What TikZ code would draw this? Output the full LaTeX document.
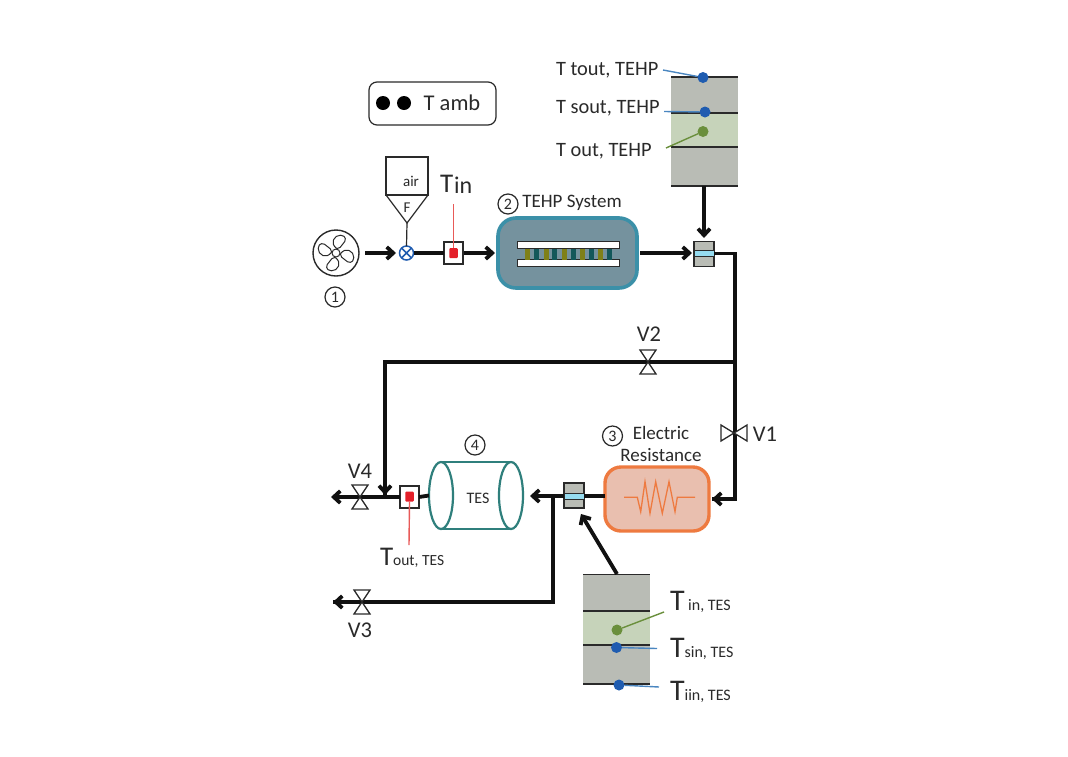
\documentclass[tikz,border=0pt]{standalone}
\usepackage{fontspec}
\setmainfont{Carlito}
\usetikzlibrary{arrows.meta,shapes.geometric,calc}
\definecolor{linek}{HTML}{111111}
\definecolor{txt}{HTML}{2A2A2A}
\definecolor{tankgrey}{HTML}{B9BCB5}
\definecolor{tankgreen}{HTML}{C6D3BA}
\definecolor{bluedot}{HTML}{1F5CB0}
\definecolor{blueline}{HTML}{4A86C0}
\definecolor{greendot}{HTML}{6A8F3C}
\definecolor{sensred}{HTML}{E4202A}
\definecolor{redline}{HTML}{E85A58}
\definecolor{tehpfill}{HTML}{75929E}
\definecolor{tehpedge}{HTML}{3B90A8}
\definecolor{resfill}{HTML}{E9BFAF}
\definecolor{resedge}{HTML}{EE7A40}
\definecolor{tesedge}{HTML}{2F7F7C}
\definecolor{olivec}{HTML}{7F8018}
\definecolor{tealc}{HTML}{13575A}
\definecolor{cyanc}{HTML}{96DCF0}
\tikzset{
  x=1pt,y=-1pt,
  pipe/.style={draw=linek,line width=3.8pt},
  flow/.style={pipe,-{Straight Barb[length=6.5pt,width=12pt,line width=3.8pt]}},
  box/.style={rectangle,draw=#1,inner sep=0pt,outer sep=0pt},
  lbl/.style={inner sep=0pt,outer sep=0pt,text=txt,font=\fontsize{19}{21}\selectfont},
  big/.style={lbl,font=\fontsize{20.4}{22}\selectfont},
  vlab/.style={lbl,font=\fontsize{22.5}{24}\selectfont},
  num/.style={circle,draw=txt,line width=1.2pt,inner sep=0pt,minimum size=20pt,text=txt,font=\fontsize{16}{16}\selectfont},
  valvebody/.style={draw=txt,line width=1.3pt,fill=white,line join=miter},
  dot/.style={circle,fill=#1,inner sep=0pt,outer sep=0pt,minimum size=11pt},
  sens/.style={box=txt,line width=1.2pt,fill=white,minimum width=19pt,minimum height=22pt},
  sred/.style={rectangle,rounded corners=1pt,fill=sensred,inner sep=0pt,minimum width=8.5pt,minimum height=10pt},
  mixer/.style={box=txt,line width=1.2pt,fill=tankgrey,minimum width=20pt,minimum height=25pt},
  tankline/.style={draw=txt,line width=1.3pt},
  probeb/.style={draw=blueline,line width=1.4pt},
  probeg/.style={draw=greendot,line width=1.4pt},
  probered/.style={draw=redline,line width=1.4pt},
}
\begin{document}
\begin{tikzpicture}
\useasboundingbox (0,0) rectangle (1068,756);
\fill[white] (0,0) rectangle (1068,756);

% legend
\node[box=txt,line width=1.2pt,rounded corners=8pt,minimum width=127pt,minimum height=43pt] (leg) at (432.5,103.5) {};
\node[dot=black,minimum size=14pt] (d1) at (383,103) {};
\node[dot=black,minimum size=14pt] (d2) at (404,103) {};
\node[lbl,font=\fontsize{22.5}{24}\selectfont] (tamb) at (452,103) {T amb};

% fan
\node[circle,draw=txt,line width=1.4pt,minimum size=46pt,inner sep=0pt] (fan) at (336,253) {};
\foreach \a in {0,90,180,270}{
  \draw[txt,line width=1pt,shift={(336,253)},rotate=\a+15]
    (2,-4) .. controls (-4,-11) and (3,-18) .. (9,-16) .. controls (15,-14) and (13,-9) .. (9,-7) .. controls (6,-5) and (5,-3) .. (2,-4) -- cycle;
}
\node[circle,draw=txt,line width=1pt,fill=white,minimum size=8pt,inner sep=0pt] (hub) at (336,253) {};
\node[num] (n1) at (335,297) {1};

% air filter
\node[box=txt,line width=1.2pt,minimum width=42pt,minimum height=38pt] (air) at (407,176) {};
\node[lbl,font=\fontsize{15}{15}\selectfont] (airt) at (411,181) {air};
\coordinate (fl) at (386,195);
\coordinate (fr) at (428,195);
\coordinate (fb) at (407,223);
\draw[txt,line width=1.2pt,line join=miter] (fl) -- (fb) -- (fr);
\node[lbl,font=\fontsize{15}{15}\selectfont] (ft) at (407,208) {F};

% mixing valve
\node[circle,draw=bluedot,line width=1.5pt,fill=white,minimum size=14pt,inner sep=0pt,outer sep=0pt] (mv) at (406.5,253) {};
\draw[bluedot,line width=1.5pt] (mv.north west) -- (mv.south east) (mv.north east) -- (mv.south west);
\draw[txt,line width=1.2pt] (fb) -- (mv.north);

% Tin sensor
\node[sens] (s1) at (453.5,253) {};
\node[sred] (r1) at (453.5,253) {};
\coordinate (r1top) at (453.5,204);
\draw[probered] (r1top) -- (r1.north);
\node[lbl,anchor=base west] (tin) at (440,192) {\fontsize{27}{27}\selectfont T\hspace{1pt}\raisebox{-1.8pt}{\fontsize{24}{24}\selectfont in}};

% TEHP
\node[box=tehpedge,line width=3.6pt,fill=tehpfill,rounded corners=18pt,minimum width=139pt,minimum height=70pt] (tehp) at (567.5,253) {};
\node[box=txt,line width=1pt,fill=white,minimum width=102pt,minimum height=6.5pt] (pl1) at (568,245.2) {};
\node[box=txt,line width=1pt,fill=white,minimum width=102pt,minimum height=6.5pt] (pl2) at (568,263.2) {};
\foreach \x in {527.5,546,564.5,582.5,600.5}{\fill[olivec] (\x-2.5,248.5) rectangle (\x+2.5,259.5);}
\foreach \x in {536.5,554.5,573.5,591.5,609.5}{\fill[tealc] (\x-2.5,248.5) rectangle (\x+2.5,259.5);}
\node[num] (n2) at (508,204) {2};
\node[lbl] (tehpt) at (572,203) {TEHP System};

% mixer 1
\node[mixer] (m1) at (704,254) {};
\node[box=txt,line width=.6pt,fill=cyanc,minimum width=20pt,minimum height=6pt] (m1c) at (704,253.5) {};

% upper tank
\fill[tankgrey] (671,77) rectangle (738,186);
\fill[tankgreen] (671,113) rectangle (738,147);
\coordinate (t1a) at (671,77); \coordinate (t1b) at (738,77);
\coordinate (t1c) at (671,113); \coordinate (t1d) at (738,113);
\coordinate (t1e) at (671,147); \coordinate (t1f) at (738,147);
\coordinate (t1g) at (671,186); \coordinate (t1h) at (738,186);
\draw[tankline] (t1a)--(t1b) (t1c)--(t1d) (t1e)--(t1f) (t1g)--(t1h);
\coordinate (t1out) at (704,186);
\node[dot=bluedot] (b1) at (703,77.5) {};
\node[dot=bluedot] (b2) at (705,112) {};
\node[dot=greendot] (g1) at (703,131.5) {};
\coordinate (p1) at (663,70); \coordinate (p2) at (664,111.5); \coordinate (p3) at (666,148);
\draw[probeb] (p1) -- (b1);
\draw[probeb] (p2) -- (b2);
\draw[probeg] (p3) -- (g1);
\node[big,anchor=west] (tt1) at (556,70) {T tout, TEHP};
\node[big,anchor=west] (tt2) at (556,108.5) {T sout, TEHP};
\node[big,anchor=west] (tt3) at (556,151.5) {T out, TEHP};

% TES
\coordinate (ca) at (441,462); \coordinate (cb) at (511,462);
\coordinate (cc) at (441,529); \coordinate (cd) at (511,529);
\draw[tesedge,line width=2.2pt] (ca)--(cb) (cc)--(cd);
\node[ellipse,draw=tesedge,line width=2.2pt,minimum width=24pt,minimum height=67pt,inner sep=0pt,outer sep=0pt] (cl) at (441,495.5) {};
\node[ellipse,draw=tesedge,line width=2.2pt,minimum width=24pt,minimum height=67pt,inner sep=0pt,outer sep=0pt] (cr) at (511,495.5) {};
\node[lbl,font=\fontsize{16}{16}\selectfont] (test) at (478,498) {TES};
\node[num] (n4) at (475,445) {4};

% out sensor
\node[sens] (s2) at (409.5,497) {};
\node[sred] (r2) at (409.5,496.5) {};
\coordinate (r2b) at (409,545);
\draw[probered] (r2.south) -- (r2b);
\node[lbl,anchor=base west] (tout) at (380,565) {\fontsize{27}{27}\selectfont T\fontsize{15.5}{16}\selectfont out, TES};

% resistance
\node[box=resedge,line width=3.4pt,fill=resfill,rounded corners=16pt,minimum width=104pt,minimum height=64pt] (res) at (657,499) {};
\draw[resedge,line width=1.3pt,line join=miter] (624,497.3) -- (637.3,497.3) -- (640.7,511.7) -- (645,481.7) -- (650,513.3) -- (655.7,481.7) -- (662.3,513.3) -- (669,481.7) -- (675,511.7) -- (677.3,497.3) -- (695,497.3);
\node[num] (n3) at (612.5,436) {3};
\node[lbl] (el1) at (661,433) {Electric};
\node[lbl] (el2) at (661,455) {Resistance};

% mixer 2
\node[mixer] (m2) at (574,495.5) {};
\node[box=txt,line width=.6pt,fill=cyanc,minimum width=20pt,minimum height=6pt] (m2c) at (574,496) {};

% lower tank
\fill[tankgrey] (583,574) rectangle (650,684);
\fill[tankgreen] (583,611) rectangle (650,645);
\coordinate (t2a) at (583,574.5); \coordinate (t2b) at (650,574.5);
\coordinate (t2c) at (583,611); \coordinate (t2d) at (650,611);
\coordinate (t2e) at (583,645); \coordinate (t2f) at (650,645);
\coordinate (t2g) at (583,684); \coordinate (t2h) at (650,684);
\draw[tankline] (t2a)--(t2b) (t2c)--(t2d) (t2e)--(t2f) (t2g)--(t2h);
\node[dot=greendot] (g2) at (617,630) {};
\node[dot=bluedot] (b3) at (616.5,647.5) {};
\node[dot=bluedot] (b4) at (619,685) {};
\coordinate (q1) at (664,612); \coordinate (q2) at (657,648.5); \coordinate (q3) at (659,687);
\draw[probeg] (q1) -- (g2);
\draw[probeb] (q2) -- (b3);
\draw[probeb] (q3) -- (b4);
\node[lbl,anchor=base west] (ti1) at (670,610) {\fontsize{30}{30}\selectfont T\fontsize{16}{16}\selectfont\ in, TES};
\node[lbl,anchor=base west] (ti2) at (670,657) {\fontsize{30}{30}\selectfont T\fontsize{16}{16}\selectfont sin, TES};
\node[lbl,anchor=base west] (ti3) at (670,700) {\fontsize{30}{30}\selectfont T\fontsize{16}{16}\selectfont iin, TES};

% pipes
\coordinate (fana) at (365,253); \coordinate (mva) at (396,253);
\draw[flow] (fana) -- (mva);
\draw[pipe] (mv.east) -- (s1.west);
\coordinate (s1a) at (464,253);
\coordinate (tehpin) at (495,253);
\draw[flow] (s1a) -- (tehpin);
\coordinate (tehpo) at (640,253); \coordinate (m1i) at (692,253);
\draw[flow] (tehpo) -- (m1i);
\coordinate (m1t) at (704,238);
\draw[flow] (t1out) -- (m1t);
\coordinate (c1) at (735,253.5);
\coordinate (c2) at (735,362);
\coordinate (c3) at (385,362);
\coordinate (c3e) at (385,495);
\coordinate (c4) at (735,499);
\coordinate (resin) at (712,499);
\draw[pipe,line join=miter] (m1c.east) -- (c1) -- (c4) -- (resin);
\draw[flow] (c4) -- (resin);
\draw[pipe] (c2) -- (c3) -- (c3e);
\draw[flow] (c3) -- (c3e);
\coordinate (left4) at (331,497);
\draw[flow] (s2.west) -- (left4);
\draw[pipe] (s2.east) -- (cl.west);
\draw[pipe] (res.west |- m2c) -- (m2c.east);
\coordinate (tesr) at (530,496);
\draw[flow] (m2c.west) -- (tesr);
\coordinate (j1) at (553,496);
\coordinate (j2) at (553,602);
\coordinate (left3) at (333,602);
\draw[pipe,line join=miter] (j1) -- (j2) -- (left3);
\draw[flow] (j2) -- (left3);
\coordinate (t2out) at (617,574);
\coordinate (m2t) at (581,514);
\draw[flow] (t2out) -- (m2t);

% valves
\coordinate (v2) at (648,362);
\draw[valvebody] (v2) -- ++(-8,-12) -- ++(16,0) -- cycle;
\draw[valvebody] (v2) -- ++(-8,12) -- ++(16,0) -- cycle;
\node[vlab] (v2t) at (649,334) {V2};
\coordinate (v1) at (734,433);
\draw[valvebody] (v1) -- ++(-13,-8) -- ++(0,16) -- cycle;
\draw[valvebody] (v1) -- ++(13,-8) -- ++(0,16) -- cycle;
\node[vlab] (v1t) at (765,434) {V1};
\coordinate (v4) at (360,497);
\draw[valvebody] (v4) -- ++(-8,-12) -- ++(16,0) -- cycle;
\draw[valvebody] (v4) -- ++(-8,12) -- ++(16,0) -- cycle;
\node[vlab] (v4t) at (360,471) {V4};
\coordinate (v3) at (362,602);
\draw[valvebody] (v3) -- ++(-8,-12) -- ++(16,0) -- cycle;
\draw[valvebody] (v3) -- ++(-8,12) -- ++(16,0) -- cycle;
\node[vlab] (v3t) at (360,630) {V3};
\end{tikzpicture}
\end{document}
